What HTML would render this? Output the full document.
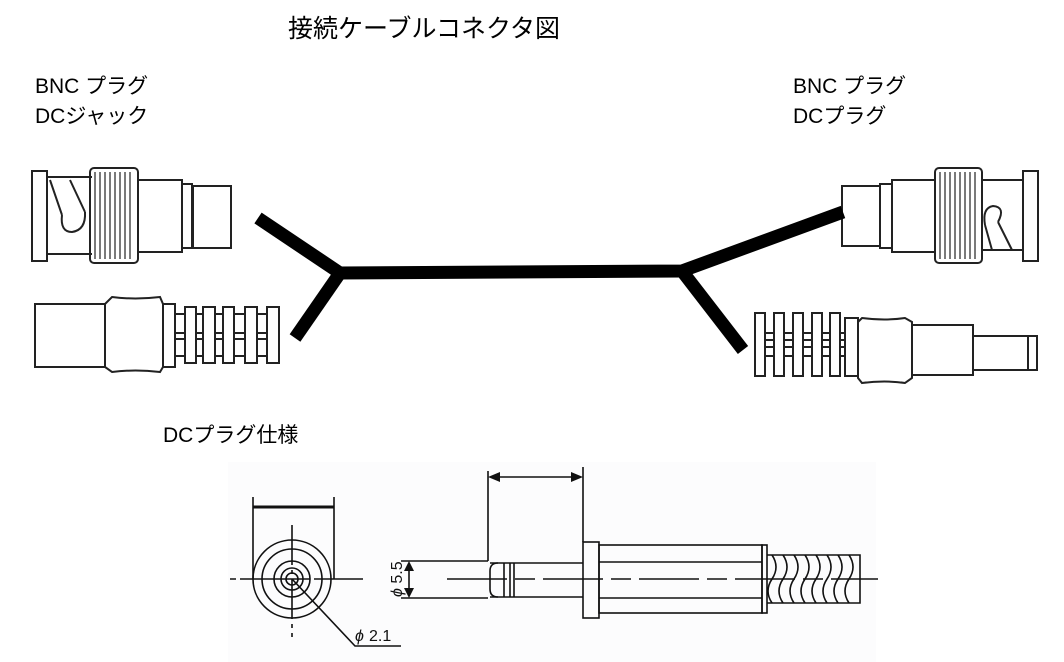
<!DOCTYPE html>
<html><head><meta charset="utf-8"><style>
html,body{margin:0;padding:0;background:#fff;}
body{width:1064px;height:662px;overflow:hidden;position:relative;font-family:"Liberation Sans","Noto Sans CJK JP",sans-serif;}
.t{position:absolute;color:#000;font-size:21px;line-height:30px;white-space:nowrap;}
svg{position:absolute;left:0;top:0;}
</style></head><body>
<svg width="1064" height="662" viewBox="0 0 1064 662">
<rect x="228" y="462" width="648" height="200" fill="#fcfcfd"/>
<g fill="none" stroke="#222" stroke-width="2">
<rect x="32" y="171" width="15" height="90" fill="#fff"/>
<path d="M47 177 H92 M47 254 H92"/>
<path d="M50 180 L62 215 M70 180 L85 212"/>
<path d="M62 215 Q60 232 72 232 Q86 230 85 212"/>
<rect x="90" y="168" width="48" height="95" rx="4"/>
<g stroke-width="1.2"><path d="M95 172V259M100 172V259M105 172V259M110 172V259M115 172V259M120 172V259M125 172V259M130 172V259"/></g>
<path d="M138 180 H182 V252 H138"/>
<rect x="182" y="184" width="10" height="64"/>
<rect x="193" y="186" width="38" height="62"/>
<rect x="35" y="304" width="70" height="63"/>
<path d="M105 304 L112 297 Q135 300 160 297 L163 304 V367 L160 372 Q135 369 112 372 L105 367 Z"/>
<rect x="163" y="304" width="12" height="63"/>
<path d="M175 314 H279 M175 356 H279 M175 333 H279 M175 339 H279"/>
<rect x="185" y="307" width="11" height="56" fill="#fff"/>
<rect x="203" y="307" width="12" height="56" fill="#fff"/>
<rect x="223" y="307" width="11" height="56" fill="#fff"/>
<rect x="245" y="307" width="12" height="56" fill="#fff"/>
<rect x="267" y="307" width="12" height="56" fill="#fff"/>
<rect x="1023" y="171" width="15" height="90" fill="#fff"/>
<path d="M982 180 H1023 M982 250 H1023"/>
<path d="M1012 250 L998 222 M992 250 L985 225"/>
<path d="M985 225 Q982 208 993 206 Q1006 207 998 222"/>
<rect x="935" y="168" width="47" height="95" rx="4"/>
<g stroke-width="1.2"><path d="M940 172V259M945 172V259M950 172V259M955 172V259M960 172V259M965 172V259M970 172V259M975 172V259"/></g>
<path d="M935 180 H892 V252 H935"/>
<rect x="880" y="184" width="12" height="64"/>
<rect x="842" y="186" width="38" height="60"/>
<path d="M755 333 H858 M755 356 H858 M755 347 H858 M755 340 H858"/>
<rect x="755" y="313" width="10" height="63" fill="#fff"/>
<rect x="774" y="313" width="10" height="63" fill="#fff"/>
<rect x="793" y="313" width="10" height="63" fill="#fff"/>
<rect x="812" y="313" width="10" height="63" fill="#fff"/>
<rect x="830" y="313" width="10" height="63" fill="#fff"/>
<rect x="845" y="318" width="13" height="58" fill="#fff"/>
<path d="M858 322 L862 318 Q885 321 905 318 L912 322 V378 L905 383 Q885 380 862 383 L858 378 Z"/>
<rect x="912" y="325" width="61" height="50"/>
<rect x="973" y="336" width="64" height="34"/>
<path d="M1028 336 V370"/>
</g>
<g stroke="#000" stroke-width="13" fill="none" stroke-linecap="butt" stroke-linejoin="miter">
<path d="M258 218 L340 273 L682 271 L843 212"/>
<path d="M340 273 L295 338"/>
<path d="M682 271 L743 350"/>
</g>
<g fill="none" stroke="#111" stroke-width="1.6">
<circle cx="292" cy="579" r="39"/>
<circle cx="292" cy="579" r="30"/>
<circle cx="292" cy="579" r="18"/>
<circle cx="292" cy="579" r="11"/>
<circle cx="292" cy="579" r="6"/>
<path d="M253 507 H334" stroke-width="3"/>
<path d="M253 497 V579 M334 497 V579"/>
<path d="M292 525 V637" stroke-dasharray="40 5 4 5"/>
<path d="M230 579 H363" stroke-dasharray="6 4 70 4 60 4"/>
<path d="M292 579 L355 646 H401"/>
<path d="M401 561 H488 M401 598 H488"/>
<path d="M488 471 V561 M583 467 V542"/>
<path d="M494 477 H577"/>
<path d="M409 567 V592"/>
<path d="M490 563 H583 M490 597 H583"/>
<path d="M498 563 Q490 563 490 571 V589 Q490 597 498 597"/>
<path d="M504 563 V597 M510 563 V597 M514 563 V597"/>
<rect x="583" y="542" width="16" height="76"/>
<rect x="599" y="545" width="163" height="68"/>
<path d="M599 562 H762 M599 598 H762"/>
<rect x="762" y="545" width="5" height="68"/>
<path d="M767 555 H860 V603 H767"/>
<path d="M772 555 q8 12 0 24 q-8 12 0 24 M783 555 q8 12 0 24 q-8 12 0 24 M794 555 q8 12 0 24 q-8 12 0 24 M805 555 q8 12 0 24 q-8 12 0 24 M816 555 q8 12 0 24 q-8 12 0 24 M827 555 q8 12 0 24 q-8 12 0 24 M838 555 q8 12 0 24 q-8 12 0 24 M849 555 q8 12 0 24 q-8 12 0 24"/>
<path d="M447 579 H878" stroke-dasharray="60 8 20 8"/>
</g>
<g fill="#111">
<path d="M488 477 L500 472 L500 482 Z"/>
<path d="M583 477 L571 472 L571 482 Z"/>
<path d="M409 561 L404 571 L414 571 Z"/>
<path d="M409 598 L404 588 L414 588 Z"/>
</g>
<text x="355" y="641" font-family="Liberation Sans, sans-serif" font-size="16" fill="#111" font-style="italic">ϕ</text>
<text x="369" y="641" font-family="Liberation Sans, sans-serif" font-size="16" fill="#111">2.1</text>
<text transform="translate(402,597) rotate(-90)" font-family="Liberation Sans, sans-serif" font-size="16" fill="#111"><tspan font-style="italic">ϕ</tspan> 5.5</text>
</svg>
<div class="t" style="left:288px;top:14px;font-size:25px;">接続ケーブルコネクタ図</div>
<div class="t" style="left:35px;top:72px;">BNC プラグ</div>
<div class="t" style="left:35px;top:102px;">DCジャック</div>
<div class="t" style="left:793px;top:72px;">BNC プラグ</div>
<div class="t" style="left:793px;top:102px;">DCプラグ</div>
<div class="t" style="left:163px;top:421px;">DCプラグ仕様</div>
</body></html>
